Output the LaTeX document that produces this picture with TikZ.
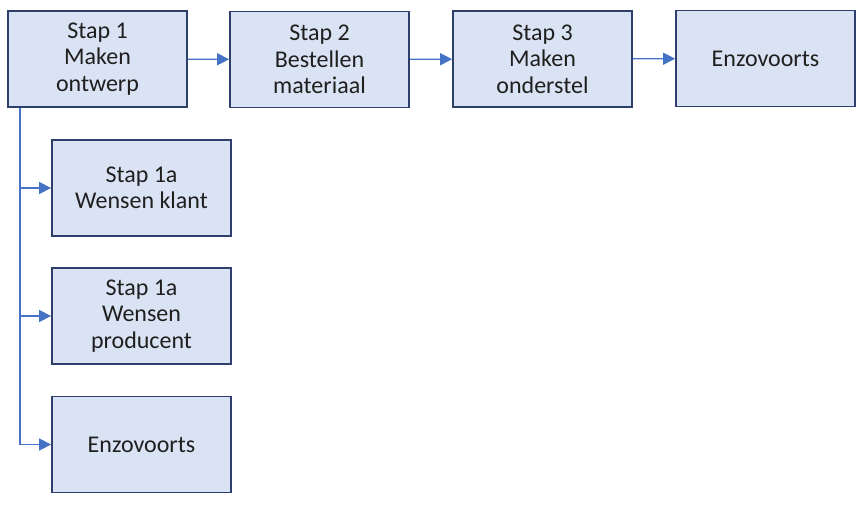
\documentclass[tikz,border=0pt]{standalone}
\usepackage{fontspec}
\setmainfont{Carlito}
\usetikzlibrary{arrows.meta}
\definecolor{boxfill}{HTML}{DAE3F3}
\definecolor{boxline}{HTML}{2F3F6B}
\definecolor{arrowc}{HTML}{4472C4}
\begin{document}
\begin{tikzpicture}[x=1pt,y=-1pt,
  stepbox/.style={draw=boxline, fill=boxfill, line width=1.8pt, minimum width=179pt, minimum height=96pt, inner sep=0pt, align=center, font=\fontsize{24}{26.5}\selectfont, text=black!88},
  conn/.style={draw=arrowc, line width=1.4pt, -{Triangle[length=12pt,width=12pt]}}]
\useasboundingbox (0,0) rectangle (864,505);
\node[stepbox] (s1) at (97.5,59) {Stap 1\\Maken\\ontwerp};
\node[stepbox] (s2) at (319.5,59.5) {Stap 2\\Bestellen\\materiaal};
\node[stepbox] (s3) at (542.5,59) {Stap 3\\Maken\\onderstel};
\node[stepbox] (s4) at (765.5,58.5) {Enzovoorts};
\node[stepbox] (a1) at (141.5,188) {Stap 1a\\Wensen klant};
\node[stepbox] (a2) at (141.5,316) {Stap 1a\\Wensen\\producent};
\node[stepbox] (a3) at (141.5,444.5) {Enzovoorts};
\draw[conn] (s1) -- (s2);
\draw[conn] (s2) -- (s3);
\draw[conn] (s3) -- (s4);
\coordinate (v) at (20,0);
\draw[conn] (s1.south -| v) |- (a1.west);
\draw[conn] (s1.south -| v) |- (a2.west);
\draw[conn] (s1.south -| v) |- (a3.west);
\end{tikzpicture}
\end{document}
